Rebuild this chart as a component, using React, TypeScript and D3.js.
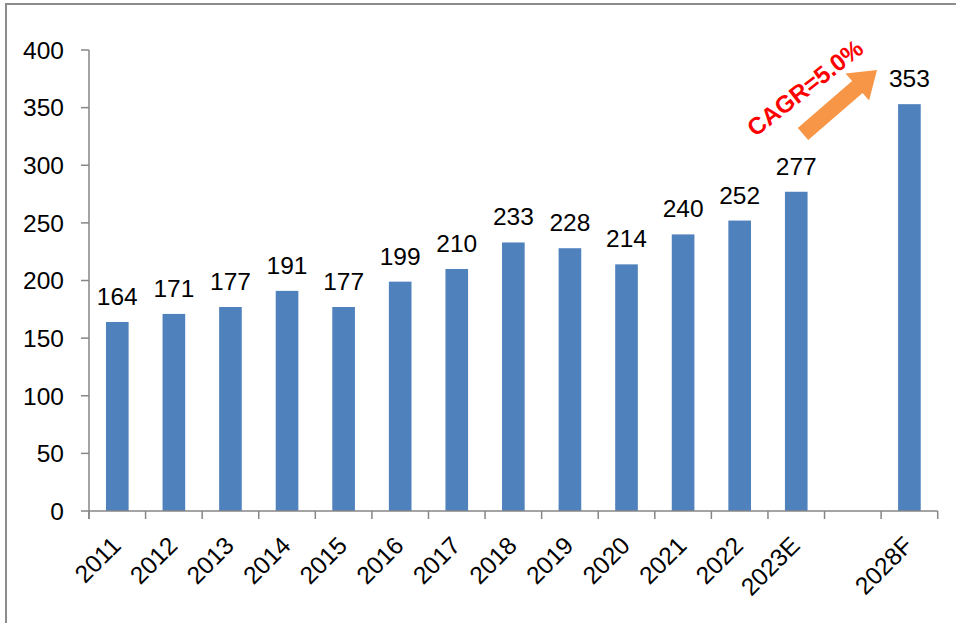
import React, { useEffect, useRef } from "react";
import * as d3 from "d3";

const categories = [
  "2011", "2012", "2013", "2014", "2015", "2016", "2017",
  "2018", "2019", "2020", "2021", "2022", "2023E", "", "2028F",
];
const values: (number | null)[] = [
  164, 171, 177, 191, 177, 199, 210, 233, 228, 214, 240, 252, 277, null, 353,
];
const yTicks = [0, 50, 100, 150, 200, 250, 300, 350, 400];
const cagrLabel = "CAGR=5.0%";

const App = () => {
  const svgRef = useRef<SVGSVGElement | null>(null);

  useEffect(() => {
    if (!svgRef.current) return;
    const width = 956;
    const height = 623;
    const svg = d3.select(svgRef.current);
    svg.selectAll("*").remove();

    const left = 89;
    const right = 937.7;
    const top = 50;
    const bottom = 511;
    const font = "'Liberation Sans', Arial, sans-serif";
    const axisColor = "#868686";

    // Outer frame
    svg
      .append("rect")
      .attr("x", 6)
      .attr("y", 4)
      .attr("width", width + 10)
      .attr("height", height + 10)
      .attr("fill", "#fff")
      .attr("stroke", "#8c8c8c")
      .attr("stroke-width", 2);

    const y = d3.scaleLinear().domain([0, 400]).range([bottom, top]);

    // one slot per category, bar 40% of the slot
    const x = d3
      .scaleBand<number>()
      .domain(d3.range(categories.length))
      .range([left, right]);
    const step = x.step();
    const barW = step * 0.4;

    const barData = values
      .map((v, i) => ({ v, i }))
      .filter((d) => d.v !== null) as { v: number; i: number }[];

    svg
      .append("g")
      .selectAll("rect")
      .data(barData)
      .join("rect")
      .attr("x", (d) => x(d.i)! + step / 2 - barW / 2)
      .attr("width", barW)
      .attr("y", (d) => y(d.v))
      .attr("height", (d) => bottom - y(d.v))
      .attr("fill", "#4f81bd");

    // Value labels
    svg
      .append("g")
      .selectAll("text")
      .data(barData)
      .join("text")
      .attr("x", (d) => x(d.i)! + step / 2)
      .attr("y", (d) => y(d.v) - 17)
      .attr("text-anchor", "middle")
      .attr("font-family", font)
      .attr("font-size", 24.5)
      .attr("fill", "#000")
      .text((d) => d.v);

    // Y axis
    const ya = svg.append("g");
    ya.append("line")
      .attr("x1", left)
      .attr("x2", left)
      .attr("y1", top)
      .attr("y2", bottom + 8)
      .attr("stroke", axisColor)
      .attr("stroke-width", 1.5);
    yTicks.forEach((t) => {
      ya.append("line")
        .attr("x1", left - 8)
        .attr("x2", left)
        .attr("y1", y(t))
        .attr("y2", y(t))
        .attr("stroke", axisColor)
        .attr("stroke-width", 1.5);
      ya.append("text")
        .attr("x", 64)
        .attr("y", y(t))
        .attr("dy", "0.36em")
        .attr("text-anchor", "end")
        .attr("font-family", font)
        .attr("font-size", 24.5)
        .attr("fill", "#000")
        .text(t);
    });

    // X axis
    const xa = svg.append("g");
    xa.append("line")
      .attr("x1", left)
      .attr("x2", right)
      .attr("y1", bottom)
      .attr("y2", bottom)
      .attr("stroke", axisColor)
      .attr("stroke-width", 1.5);
    d3.range(categories.length + 1).forEach((i) => {
      xa.append("line")
        .attr("x1", left + step * i)
        .attr("x2", left + step * i)
        .attr("y1", bottom)
        .attr("y2", bottom + 8)
        .attr("stroke", axisColor)
        .attr("stroke-width", 1.5);
    });
    categories.forEach((c, i) => {
      if (!c) return;
      const cx = x(i)! + step / 2;
      xa.append("text")
        .attr("transform", `translate(${cx + 5},${bottom + 36}) rotate(-45)`)
        .attr("text-anchor", "end")
        .attr("font-family", font)
        .attr("font-size", 24.5)
        .attr("fill", "#000")
        .text(c);
    });

    // CAGR arrow
    const x0 = 803, y0 = 134, x1 = 877, y1 = 70;
    const ang = Math.atan2(y1 - y0, x1 - x0);
    const len = Math.hypot(x1 - x0, y1 - y0);
    const headLen = 26, shaftW = 16, headW = 36;
    const arrowPath = `M0,${-shaftW / 2} L${len - headLen},${-shaftW / 2} L${len - headLen},${-headW / 2} L${len},0 L${len - headLen},${headW / 2} L${len - headLen},${shaftW / 2} L0,${shaftW / 2} Z`;
    svg
      .append("path")
      .attr("d", arrowPath)
      .attr("transform", `translate(${x0},${y0}) rotate(${(ang * 180) / Math.PI})`)
      .attr("fill", "#f79646");

    svg
      .append("text")
      .attr("transform", `translate(805,88) rotate(-38)`)
      .attr("text-anchor", "middle")
      .attr("dy", "0.35em")
      .attr("font-family", font)
      .attr("font-size", 24)
      .attr("font-weight", "bold")
      .attr("fill", "#ff0000")
      .text(cagrLabel);
  }, []);

  return (
    <svg
      ref={svgRef}
      width={956}
      height={623}
      style={{ position: "absolute", left: 0, top: 0 }}
    />
  );
};

export default App;
